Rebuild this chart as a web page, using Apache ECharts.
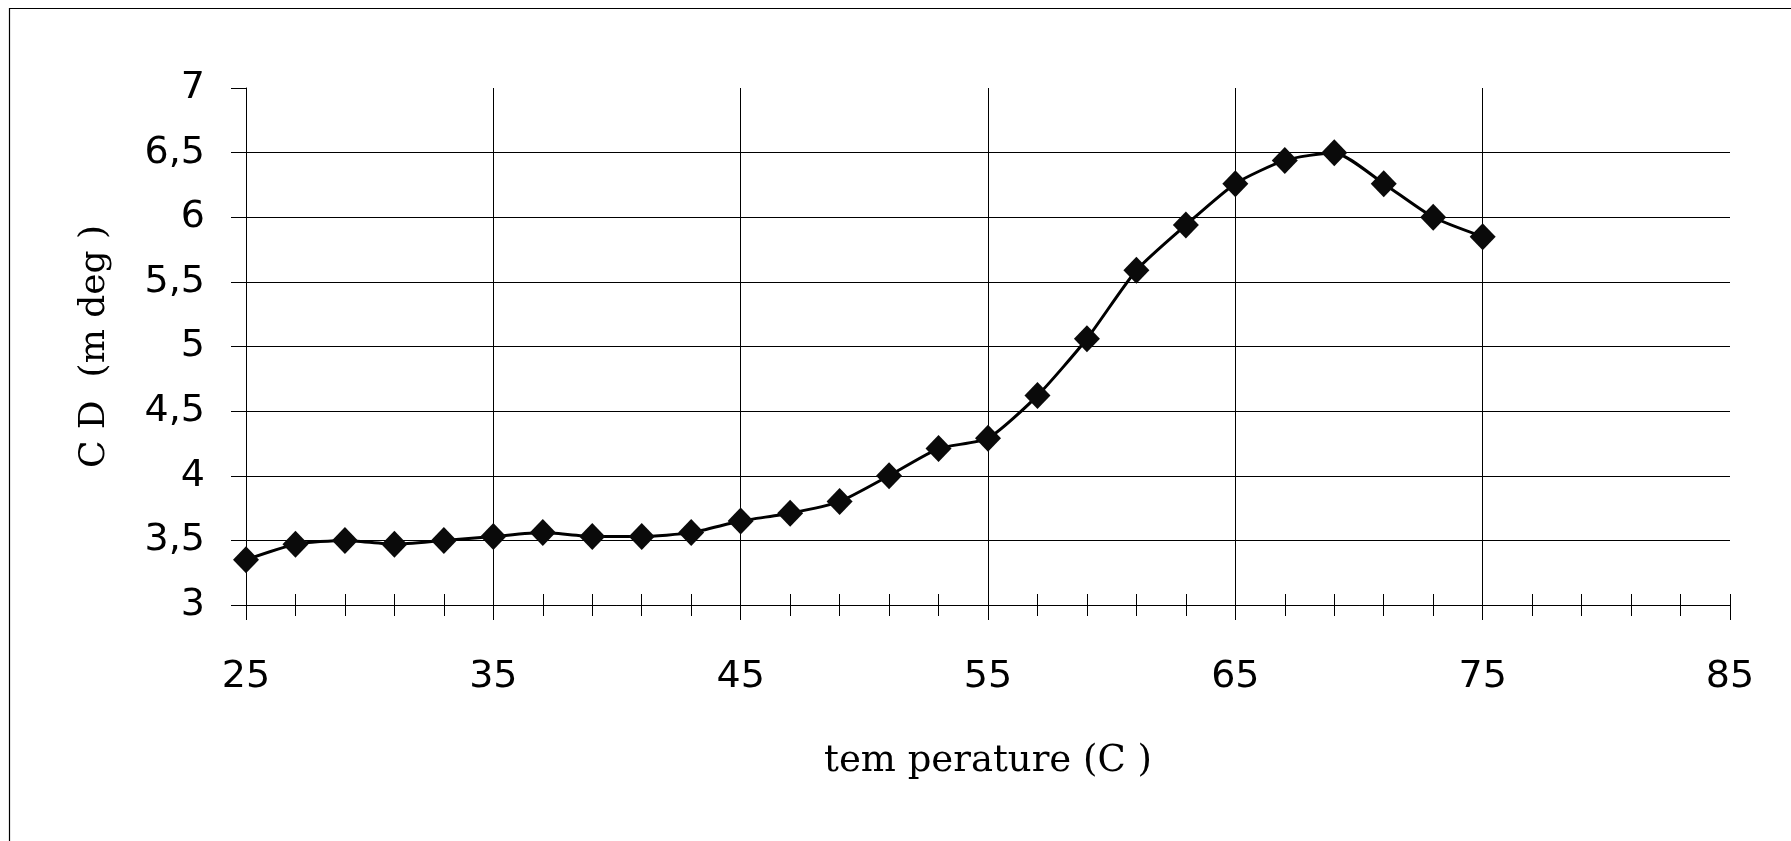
<!DOCTYPE html>
<html>
<head>
<meta charset="utf-8">
<script src="https://cdn.jsdelivr.net/npm/echarts@6/dist/echarts.min.js"></script>
<style>
  html, body { margin: 0; padding: 0; background: #fff; }
  #chart { width: 1791px; height: 841px; }
</style>
</head>
<body>
<div id="chart"></div>
<script>
// Temperature steps (°C) and measured CD signal (mdeg)
const temperatures = [25, 27, 29, 31, 33, 35, 37, 39, 41, 43, 45, 47, 49,
                      51, 53, 55, 57, 59, 61, 63, 65, 67, 69, 71, 73, 75];
const cdValues = [3.35, 3.47, 3.50, 3.47, 3.50, 3.53, 3.56, 3.53, 3.53, 3.56,
                  3.65, 3.71, 3.80, 4.00, 4.21, 4.29, 4.62, 5.06, 5.59, 5.94,
                  6.26, 6.44, 6.50, 6.26, 6.00, 5.85];
const xTicks = [25, 35, 45, 55, 65, 75, 85];
const yTicks = [3, 3.5, 4, 4.5, 5, 5.5, 6, 6.5, 7];

const xTitle = 'tem perature (C )';
const yTitle = 'C D  (m deg )';

const points = temperatures.map((t, i) => [t, cdValues[i]]);

const ink = '#000';
const tickFont = { fontFamily: 'DejaVu Sans', fontSize: 38, color: ink };
const titleFont = { fontFamily: 'DejaVu Serif', color: ink };

const chart = echarts.init(document.getElementById('chart'), null, { renderer: 'canvas' });

const xBase = {
  type: 'value',
  min: xTicks[0],
  max: xTicks[xTicks.length - 1],
  interval: xTicks[1] - xTicks[0],
  position: 'bottom'
};

chart.setOption({
  animation: false,
  backgroundColor: '#fff',
  grid: {
    left: 246, top: 88, width: 1484, height: 517,
    containLabel: false, outerBoundsMode: 'none'
  },
  graphic: [{
    type: 'rect',
    shape: { x: 9.5, y: 8.5, width: 2000, height: 2000 },
    style: { fill: 'none', stroke: ink, lineWidth: 1.2 },
    silent: true
  }],
  xAxis: [
    Object.assign({}, xBase, {
      name: xTitle,
      nameLocation: 'middle',
      nameGap: 138,
      nameTextStyle: Object.assign({ fontSize: 37 }, titleFont),
      axisLine: { show: true, lineStyle: { color: ink, width: 1 } },
      axisTick: { show: true, inside: false, length: 15, lineStyle: { color: ink, width: 1 } },
      minorTick: { show: true, splitNumber: 5, length: 11, lineStyle: { color: ink, width: 1 } },
      axisLabel: Object.assign({ show: true, margin: 53 }, tickFont),
      splitLine: { show: true, showMinLine: false, showMaxLine: false, lineStyle: { color: ink, width: 1 } },
      minorSplitLine: { show: false }
    }),
    // overlay axis drawing the upper half of the crossing ticks
    Object.assign({}, xBase, {
      axisLine: { show: true, lineStyle: { color: ink, width: 1 } },
      axisTick: { show: true, inside: true, length: 11, lineStyle: { color: ink, width: 1 } },
      minorTick: { show: true, splitNumber: 5, length: 11, lineStyle: { color: ink, width: 1 } },
      axisLabel: { show: false },
      splitLine: { show: false }
    })
  ],
  yAxis: {
    type: 'value',
    min: yTicks[0],
    max: yTicks[yTicks.length - 1],
    interval: yTicks[1] - yTicks[0],
    name: yTitle,
    nameLocation: 'middle',
    nameGap: 133,
    nameRotate: 90,
    nameTextStyle: Object.assign({ fontSize: 36 }, titleFont),
    axisLine: { show: true, lineStyle: { color: ink, width: 1 } },
    axisTick: { show: true, inside: false, length: 15, lineStyle: { color: ink, width: 1 } },
    axisLabel: Object.assign({
      show: true, margin: 41,
      formatter: v => String(v).replace('.', ',')
    }, tickFont),
    splitLine: { show: true, showMinLine: false, showMaxLine: false, lineStyle: { color: ink, width: 1 } }
  },
  series: [{
    type: 'line',
    xAxisIndex: 0,
    data: points,
    smooth: 0.2,
    symbol: 'diamond',
    symbolSize: [26, 27],
    showAllSymbol: true,
    lineStyle: { color: ink, width: 3 },
    itemStyle: { color: '#0a0a0a', borderWidth: 0 },
    emphasis: { disabled: true },
    z: 5
  }]
});
</script>
</body>
</html>
